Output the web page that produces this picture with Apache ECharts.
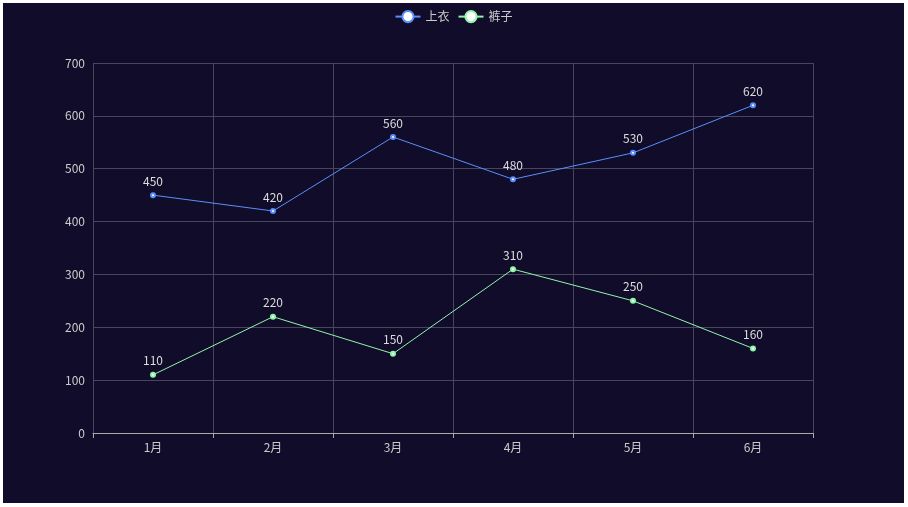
<!DOCTYPE html><html><head><meta charset="utf-8"><script src="https://cdn.jsdelivr.net/npm/echarts@6/dist/echarts.min.js"></script>
<style>html,body{margin:0;background:#fff;}#c{position:absolute;left:3px;top:3px;width:901px;height:500px;}</style></head><body><div id="c"></div><script>
const categories=['1月','2月','3月','4月','5月','6月'];
const shirts=[450,420,560,480,530,620];
const pants=[110,220,150,310,250,160];
const chart=echarts.init(document.getElementById('c'));
const lbl={show:true,position:'top',color:'#ddd',fontSize:12};
chart.setOption({
backgroundColor:'#100c2a',
color:['#5b8ff9','#91f5ab'],
textStyle:{fontFamily:'Noto Sans CJK SC'},
legend:{top:2,textStyle:{color:'#ccc',fontSize:12},itemGap:8,data:['上衣','裤子']},
grid:{left:90,right:91,top:60,bottom:70},
xAxis:{type:'category',data:categories,axisLine:{lineStyle:{color:'#aaa'}},axisTick:{show:true},axisLabel:{color:'#ccc',fontSize:12},splitLine:{show:true,lineStyle:{color:'#48455e'}}},
yAxis:{type:'value',min:0,max:700,interval:100,axisLabel:{color:'#ccc',fontSize:12},splitLine:{lineStyle:{color:'#48455e'}},axisLine:{show:false}},
series:[
{name:'上衣',type:'line',data:shirts,symbolSize:4,lineStyle:{width:1},label:lbl},
{name:'裤子',type:'line',data:pants,symbolSize:4,lineStyle:{width:1},label:lbl}]
});
</script></body></html>
